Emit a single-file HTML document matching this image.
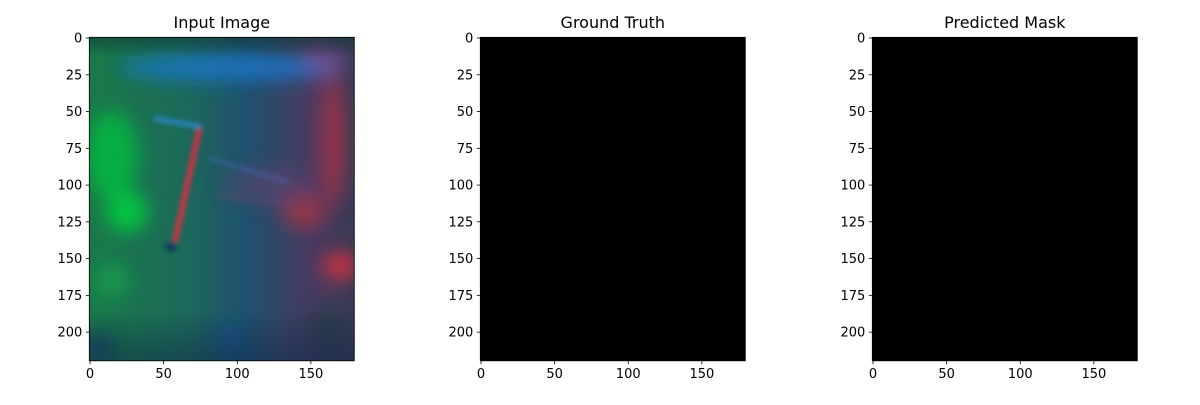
<!DOCTYPE html>
<html><head><meta charset="utf-8"><style>
html,body{margin:0;padding:0;background:#fff;}
svg text{font-family:"DejaVu Sans","Liberation Sans",sans-serif;fill:#000;}
</style></head><body>
<svg id="fig" width="1200" height="400" viewBox="0 0 1200 400" xmlns="http://www.w3.org/2000/svg">
<defs>
<filter id="b8" x="-50%" y="-50%" width="200%" height="200%"><feGaussianBlur stdDeviation="9"/></filter>
<filter id="b3" x="-50%" y="-50%" width="200%" height="200%"><feGaussianBlur stdDeviation="2.5"/></filter>
<clipPath id="clip1"><rect x="89.3" y="37.3" width="265" height="323.5"/></clipPath>
<linearGradient id="bgH" x1="0" y1="0" x2="1" y2="0">
<stop offset="0" stop-color="#1a7a48"/>
<stop offset="0.35" stop-color="#1c6a5a"/>
<stop offset="0.6" stop-color="#20506e"/>
<stop offset="0.85" stop-color="#4a3a60"/>
<stop offset="1" stop-color="#3a3a55"/>
</linearGradient>
<linearGradient id="bgV" x1="0" y1="0" x2="0" y2="1">
<stop offset="0" stop-color="#103a38" stop-opacity="0.6"/>
<stop offset="0.06" stop-color="#103a38" stop-opacity="0"/>
<stop offset="0.85" stop-color="#102040" stop-opacity="0"/>
<stop offset="1" stop-color="#102848" stop-opacity="0.5"/>
</linearGradient>
</defs>
</svg>
<script>
const titles = ["Input Image", "Ground Truth", "Predicted Mask"];
const xTicks = [0, 50, 100, 150];
const yTicks = [0, 25, 50, 75, 100, 125, 150, 175, 200];
const imgW = 180, imgH = 220;
const panelLefts = [89.3, 480.3, 872.3];
// blobs in image coords
const blobX = [15, 25, 15, 95, 165, 170, 145, 160, 95, 120, 5, 160];
const blobY = [80, 118, 165, 20, 70, 155, 118, 15, 205, 100, 210, 200];
const blobRX = [18, 14, 12, 75, 9, 12, 15, 14, 8, 30, 12, 15];
const blobRY = [30, 14, 12, 9, 45, 10, 12, 10, 10, 12, 10, 20];
const blobC = ["#00c040", "#00d040", "#10b050", "#1a78d0", "#d03040", "#e03040", "#c03040", "#9050a0", "#1050b0", "#6a4070", "#103070", "#203a48"];
const blobO = [0.75, 0.85, 0.55, 0.8, 0.55, 0.8, 0.6, 0.5, 0.6, 0.5, 0.6, 0.6];

const NS = "http://www.w3.org/2000/svg";
const svg = document.getElementById("fig");
const top0 = 37.3, W = 265, H = 323.5;
function mk(t, a, p) { const e = document.createElementNS(NS, t); for (const k in a) e.setAttribute(k, a[k]); (p || svg).appendChild(e); return e; }

panelLefts.forEach((L, i) => {
  const sx = v => L + (v + 0.5) / imgW * W;
  const sy = v => top0 + (v + 0.5) / imgH * H;
  const g = mk("g", {});
  
  
  if (i === 0) {
    const ig = mk("g", { "clip-path": "url(#clip1)" }, g);
    
    
    mk("rect", { x: L, y: top0, width: W, height: H, fill: "url(#bgH)" }, ig);
    const bg = mk("g", { filter: "url(#b8)" }, ig);
    blobX.forEach((bx, k) => {
      mk("ellipse", { cx: sx(bx), cy: sy(blobY[k]), rx: blobRX[k] / imgW * W, ry: blobRY[k] / imgH * H, fill: blobC[k], opacity: blobO[k] }, bg);
    });
    mk("rect", { x: L, y: top0, width: W, height: H, fill: "url(#bgV)" }, ig);
    const sg = mk("g", { filter: "url(#b3)" }, ig);
    mk("line", { x1: sx(74), y1: sy(63), x2: sx(58), y2: sy(137), stroke: "#c83545", "stroke-width": 6, "stroke-linecap": "round" }, sg);
    mk("line", { x1: sx(45), y1: sy(55), x2: sx(74), y2: sy(60), stroke: "#2a8ad8", "stroke-width": 5, "stroke-linecap": "round", opacity: 0.8 }, sg);
    mk("line", { x1: sx(82), y1: sy(82), x2: sx(135), y2: sy(98), stroke: "#4a68b8", "stroke-width": 4, opacity: 0.5 }, sg);
    mk("line", { x1: sx(85), y1: sy(108), x2: sx(140), y2: sy(112), stroke: "#6a4a70", "stroke-width": 4, opacity: 0.4 }, sg);
    mk("ellipse", { cx: sx(55), cy: sy(142), rx: 6, ry: 5, fill: "#142e60", opacity: 0.8 }, sg);
  } else {
    const r = mk("rect", { x: L, y: top0, width: W, height: H, fill: "#000" }, g);
    
    
  }
  mk("rect", { x: L, y: top0, width: W, height: H, fill: "none", stroke: "#000", "stroke-width": 0.8 }, g);
  const t = mk("text", { x: L + W / 2, y: 28, "text-anchor": "middle", "font-size": 16 }, g);
  t.textContent = titles[i];
  
  
  xTicks.forEach(v => {
    const x = sx(v);
    mk("line", { x1: x, y1: top0 + H, x2: x, y2: top0 + H + 3.5, stroke: "#000", "stroke-width": 0.8 }, g);
    const tx = mk("text", { x: x, y: top0 + H + 17, "text-anchor": "middle", "font-size": 13 }, g);
    tx.textContent = v;
    
    
  });
  yTicks.forEach(v => {
    const y = sy(v);
    mk("line", { x1: L - 3.5, y1: y, x2: L, y2: y, stroke: "#000", "stroke-width": 0.8 }, g);
    const ty = mk("text", { x: L - 7, y: y + 4.5, "text-anchor": "end", "font-size": 13 }, g);
    ty.textContent = v;
    
    
  });
});
</script>
</body></html>
